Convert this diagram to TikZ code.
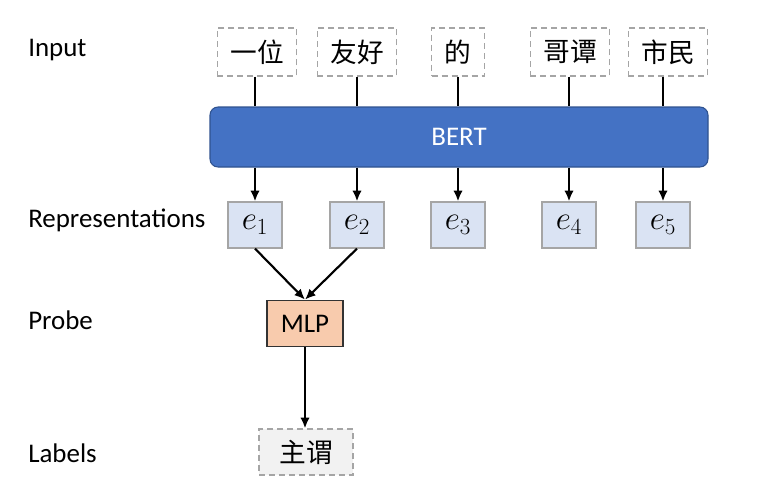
\documentclass[tikz,border=0pt]{standalone}
\usepackage{fontspec}
\setmainfont{Carlito}
\newfontfamily\cjk{Noto Sans CJK SC}
\usetikzlibrary{arrows.meta}

\definecolor{bertblue}{HTML}{4472C4}
\definecolor{bertedge}{HTML}{2F528F}
\definecolor{repfill}{HTML}{DAE3F3}
\definecolor{mlpfill}{HTML}{F8CBAD}
\definecolor{boxgray}{HTML}{A5A5A5}

\begin{document}
\begin{tikzpicture}[
		x=0.75pt,y=-0.75pt,
		font=\fontsize{20.2}{24}\selectfont,
		rowname/.style={anchor=west,inner sep=0pt},
		word/.style={
			draw=boxgray,dashed,dash pattern=on 4.5pt off 3pt,line width=0.9pt,fill=white,
			inner xsep=9.75pt,minimum height=36pt,inner ysep=0pt,font=\fontsize{20}{24}\cjk,
		},
		rep/.style={
			draw=boxgray,line width=0.9pt,fill=repfill,
			minimum width=40.5pt,minimum height=34.5pt,inner sep=0pt,font=\fontsize{23}{27}\selectfont,
		},
		encoder/.style={
			draw=bertedge,fill=bertblue,rounded corners=6pt,line width=0.8pt,text=white,
			minimum width=373.5pt,minimum height=45pt,inner sep=0pt,
		},
		probe/.style={
			draw=black!80,fill=mlpfill,line width=0.8pt,
			minimum width=57pt,minimum height=35pt,inner sep=0pt,
		},
		tag/.style={
			word,fill=black!5,minimum width=70.5pt,minimum height=34.5pt,
		},
		link/.style={line width=1.6pt},
		arrow/.style={link,-{Latex[length=8pt,width=7pt]}},
	]
	\useasboundingbox (0,0) rectangle (765,490);

	% row names on the left
	\node[rowname] (name-input) at (28,50) {Input};
	\node[rowname] (name-rep) at (28,220) {Representations};
	\node[rowname] (name-probe) at (28,320) {Probe};
	\node[rowname] (name-labels) at (28,453) {Labels};

	% input tokens
	\foreach \i/\x/\w in {1/257/一位,2/357/友好,3/458/的,4/570/哥谭,5/668/市民}
	\node [word] at (\x,52) (word-\i) {\w};

	\node[encoder] at (459,137) (bert) {BERT};

	% one representation per token
	\foreach \i/\x in {1/255,2/357,3/458,4/569,5/663}
	\node [rep] at (\x,225) (rep-\i) {$e_{\i}$};

	\foreach \i in {1,...,5} {
		\draw[link] (rep-\i |- word-\i.south) -- (rep-\i |- bert.north);
		\draw[arrow] (rep-\i |- bert.south) -- (rep-\i.north);
	}

	\node[probe] at (305,323.5) (mlp) {MLP};
	\node[tag] at (306,452) (label) {主谓};

	\draw[arrow] (rep-1.south) -- (mlp.north);
	\draw[arrow] (rep-2.south) -- (mlp.north);
	\draw[arrow] (mlp.south) -- (mlp.south |- label.north);

\end{tikzpicture}
\end{document}
